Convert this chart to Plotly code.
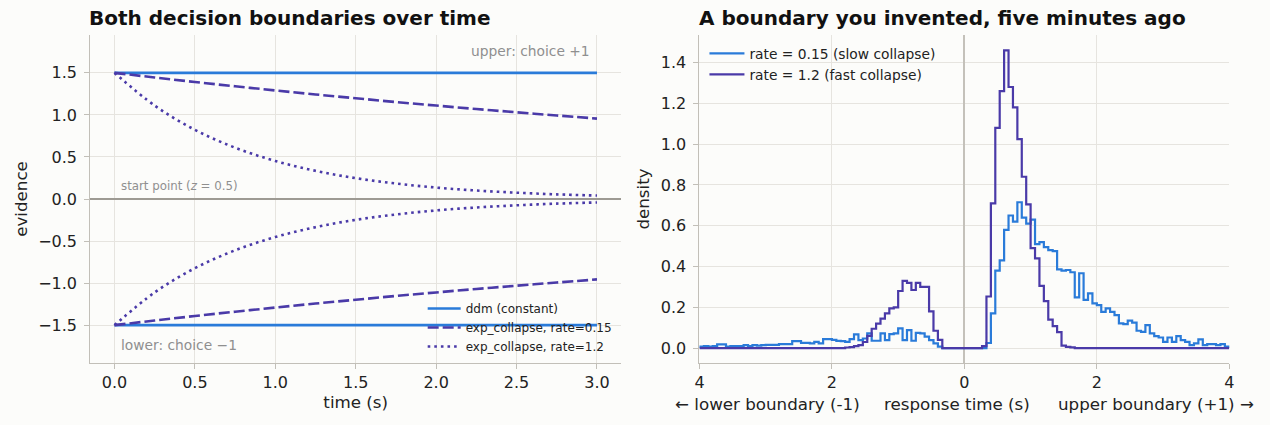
import numpy as np
import plotly.graph_objects as go

# ---- left panel: boundaries, every 0.25 s
boundary_t = [0.0, 0.25, 0.5, 0.75, 1.0, 1.25, 1.5, 1.75, 2.0, 2.25, 2.5, 2.75, 3.0]
ddm_upper = [1.5, 1.5, 1.5, 1.5, 1.5, 1.5, 1.5, 1.5, 1.5, 1.5, 1.5, 1.5, 1.5]
ddm_lower = [-1.5, -1.5, -1.5, -1.5, -1.5, -1.5, -1.5, -1.5, -1.5, -1.5, -1.5, -1.5, -1.5]
slow_upper = [1.5, 1.445, 1.391, 1.34, 1.291, 1.243, 1.198, 1.153, 1.111, 1.07, 1.031, 0.993, 0.956]
slow_lower = [-1.5, -1.445, -1.391, -1.34, -1.291, -1.243, -1.198, -1.153, -1.111, -1.07, -1.031, -0.993, -0.956]
fast_upper = [1.5, 1.111, 0.823, 0.61, 0.452, 0.335, 0.248, 0.184, 0.136, 0.101, 0.075, 0.055, 0.041]
fast_lower = [-1.5, -1.111, -0.823, -0.61, -0.452, -0.335, -0.248, -0.184, -0.136, -0.101, -0.075, -0.055, -0.041]

# ---- right panel: RT histograms, 120 bins on [-4, 4]
# lists run outward from 0: bin k covers |rt| in [k/15, (k+1)/15]
bin_lo, bin_hi, n_bins = -4.0, 4.0, 120
slow_up_hist = [0, 0, 0, 0, 0, 0.025, 0.17, 0.38, 0.43, 0.58,
                0.65, 0.62, 0.715, 0.64, 0.61, 0.63, 0.51, 0.52, 0.495, 0.48,
                0.475, 0.386, 0.38, 0.383, 0.372, 0.249, 0.367, 0.236, 0.268, 0.219,
                0.211, 0.178, 0.195, 0.178, 0.162, 0.121, 0.118, 0.135, 0.125, 0.085,
                0.08, 0.113, 0.072, 0.059, 0.052, 0.031, 0.052, 0.031, 0.059, 0.039,
                0.031, 0.015, 0.023, 0.043, 0.015, 0.02, 0.02, 0.015, 0.02, 0.007]
slow_lo_hist = [0, 0, 0, 0, 0, 0.007, 0.023, 0.039, 0.056, 0.072,
                0.075, 0.036, 0.088, 0.039, 0.097, 0.072, 0.069, 0.039, 0.072, 0.036,
                0.036, 0.072, 0.047, 0.039, 0.067, 0.044, 0.031, 0.034, 0.035, 0.04,
                0.044, 0.044, 0.023, 0.031, 0.023, 0.026, 0.026, 0.034, 0.034, 0.02,
                0.02, 0.02, 0.016, 0.016, 0.016, 0.015, 0.012, 0.015, 0.01, 0.015,
                0.01, 0.01, 0.01, 0.008, 0.018, 0.018, 0.01, 0.008, 0.01, 0.008]
fast_up_hist = [0, 0, 0, 0, 0.01, 0.253, 0.71, 1.08, 1.26, 1.46,
                1.28, 1.18, 1.025, 0.84, 0.705, 0.49, 0.44, 0.305, 0.23, 0.14,
                0.108, 0.078, 0.012, 0.006, 0.004, 0, 0, 0, 0, 0,
                0, 0, 0, 0, 0, 0, 0, 0, 0, 0,
                0, 0, 0, 0, 0, 0, 0, 0, 0, 0,
                0, 0, 0, 0, 0, 0, 0, 0, 0, 0]
fast_lo_hist = [0, 0, 0, 0, 0, 0.04, 0.085, 0.18, 0.3, 0.3,
                0.32, 0.285, 0.32, 0.33, 0.28, 0.2, 0.195, 0.17, 0.145, 0.12,
                0.095, 0.06, 0.03, 0.015, 0.01, 0.005, 0.003, 0, 0, 0,
                0, 0, 0, 0, 0, 0, 0, 0, 0, 0,
                0, 0, 0, 0, 0, 0, 0, 0, 0, 0,
                0, 0, 0, 0, 0, 0, 0, 0, 0, 0]
rt_tickvals = [-4, -2, 0, 2, 4]
rt_ticktext = ["4", "2", "0", "2", "4"]

BLUE = "#2a7bd9"
PURPLE = "#4a3aa8"
GRID = "#e6e4df"
SPINE = "#c2bfb8"
BG = "#fcfcfa"
FONT = "DejaVu Sans"
LABEL_SIZE = 16.7

edges = np.linspace(bin_lo, bin_hi, n_bins + 1)


def step_xy(lo_side, up_side):
    vals = list(lo_side[::-1]) + list(up_side)
    xs = [edges[0]] + list(edges[:-1]) + [edges[-1], edges[-1]]
    ys = [0] + vals + [vals[-1], 0]
    return xs, ys


fig = go.Figure()

# left panel
fig.add_trace(go.Scatter(x=boundary_t, y=ddm_upper, mode="lines", name="ddm (constant)",
                         line=dict(color=BLUE, width=2.6), legend="legend"))
fig.add_trace(go.Scatter(x=boundary_t, y=ddm_lower, mode="lines", showlegend=False,
                         line=dict(color=BLUE, width=2.6)))
fig.add_trace(go.Scatter(x=boundary_t, y=slow_upper, mode="lines", name="exp_collapse, rate=0.15",
                         line=dict(color=PURPLE, width=2.6, dash="11px,4px", shape="spline"),
                         legend="legend"))
fig.add_trace(go.Scatter(x=boundary_t, y=slow_lower, mode="lines", showlegend=False,
                         line=dict(color=PURPLE, width=2.6, dash="11px,4px", shape="spline")))
fig.add_trace(go.Scatter(x=boundary_t, y=fast_upper, mode="lines", name="exp_collapse, rate=1.2",
                         line=dict(color=PURPLE, width=2.6, dash="2.6px,4px", shape="spline"),
                         legend="legend"))
fig.add_trace(go.Scatter(x=boundary_t, y=fast_lower, mode="lines", showlegend=False,
                         line=dict(color=PURPLE, width=2.6, dash="2.6px,4px", shape="spline")))

# right panel
sx, sy = step_xy(slow_lo_hist, slow_up_hist)
fx, fy = step_xy(fast_lo_hist, fast_up_hist)
fig.add_trace(go.Scatter(x=sx, y=sy, mode="lines", name="rate = 0.15 (slow collapse)",
                         line=dict(color=BLUE, width=2.2, shape="hv"),
                         xaxis="x2", yaxis="y2", legend="legend2"))
fig.add_trace(go.Scatter(x=fx, y=fy, mode="lines", name="rate = 1.2 (fast collapse)",
                         line=dict(color=PURPLE, width=2.2, shape="hv"),
                         xaxis="x2", yaxis="y2", legend="legend2"))

axis_common = dict(showgrid=True, gridcolor=GRID, gridwidth=1, showline=True,
                   linecolor=SPINE, linewidth=1.2, ticks="outside", ticklen=5,
                   tickcolor=SPINE, tickfont=dict(size=16, color="#222"),
                   mirror=False)

fig.update_layout(
    width=1270, height=425, autosize=False,
    margin=dict(l=0, r=0, t=0, b=0),
    paper_bgcolor=BG, plot_bgcolor=BG,
    font=dict(family=FONT, color="#222"),
    xaxis=dict(axis_common, domain=[86 / 1270, 621 / 1270], range=[-0.15, 3.15],
               tick0=0, dtick=0.5, tickformat=".1f", zeroline=False,
               title=dict(text="time (s)", font=dict(size=LABEL_SIZE), standoff=5)),
    yaxis=dict(axis_common, domain=[1 - 363 / 425, 1 - 35 / 425], range=[-1.95, 1.95],
               tick0=0, dtick=0.5, tickformat=".1f", ticklabelstandoff=4,
               zeroline=True, zerolinecolor="#9d9a93", zerolinewidth=1.6,
               title=dict(text="evidence", font=dict(size=LABEL_SIZE), standoff=6)),
    xaxis2=dict(axis_common, domain=[700 / 1270, 1234 / 1270], range=[bin_lo, bin_hi],
                tickvals=rt_tickvals, ticktext=rt_ticktext, anchor="y2",
                zeroline=True, zerolinecolor="#c4c1ba", zerolinewidth=1.6),
    yaxis2=dict(axis_common, domain=[1 - 363 / 425, 1 - 35 / 425], range=[-0.073, 1.535],
                tick0=0, dtick=0.2, tickformat=".1f", anchor="x2", zeroline=False,
                ticklabelstandoff=4,
                title=dict(text="density", font=dict(size=LABEL_SIZE), standoff=6)),
    legend=dict(x=421 / 1270, y=1 - 294 / 425, xanchor="left", yanchor="top",
                bgcolor="rgba(0,0,0,0)", font=dict(size=12, color="#222"),
                itemwidth=33, tracegroupgap=0),
    legend2=dict(x=705 / 1270, y=1 - 38 / 425, xanchor="left", yanchor="top",
                 bgcolor="rgba(0,0,0,0)", font=dict(size=13.8, color="#222"),
                 itemwidth=35, tracegroupgap=0),
)

GRAY_TXT = "#8f8f8f"
fig.add_annotation(x=2.97, y=1.76, xref="x", yref="y", text="upper: choice +1",
                   showarrow=False, xanchor="right", yanchor="middle",
                   font=dict(size=13.8, color=GRAY_TXT))
fig.add_annotation(x=0.03, y=-1.74, xref="x", yref="y", text="lower: choice \u22121",
                   showarrow=False, xanchor="left", yanchor="middle",
                   font=dict(size=13.8, color=GRAY_TXT))
fig.add_annotation(x=0.03, y=0.155, xref="x", yref="y", text="start point (<i>z</i> = 0.5)",
                   showarrow=False, xanchor="left", yanchor="middle",
                   font=dict(size=11.8, color=GRAY_TXT))

# titles
fig.add_annotation(x=83 / 1270, y=1 - 18 / 425, xref="paper", yref="paper",
                   text="<b>Both decision boundaries over time</b>", showarrow=False,
                   xanchor="left", yanchor="middle", font=dict(size=20, color="#111"))
fig.add_annotation(x=697 / 1270, y=1 - 18 / 425, xref="paper", yref="paper",
                   text="<b>A boundary you invented, five minutes ago</b>", showarrow=False,
                   xanchor="left", yanchor="middle", font=dict(size=20, color="#111"))

# right x label, in three parts
lab_y = 1 - 404 / 425
fig.add_annotation(x=673 / 1270, y=lab_y, xref="paper", yref="paper",
                   text="\u2190 lower boundary (-1)", showarrow=False,
                   xanchor="left", yanchor="middle", font=dict(size=LABEL_SIZE, color="#222"))
fig.add_annotation(x=960 / 1270, y=lab_y, xref="paper", yref="paper",
                   text="response time (s)", showarrow=False,
                   xanchor="center", yanchor="middle", font=dict(size=LABEL_SIZE, color="#222"))
fig.add_annotation(x=1261 / 1270, y=lab_y, xref="paper", yref="paper",
                   text="upper boundary (+1) \u2192", showarrow=False,
                   xanchor="right", yanchor="middle", font=dict(size=LABEL_SIZE, color="#222"))

# the page's default body margin would push the 1270x425 figure off the window
fig.write_html("out.html", config={"displayModeBar": False},
               post_script="document.body.style.margin = '0';")
